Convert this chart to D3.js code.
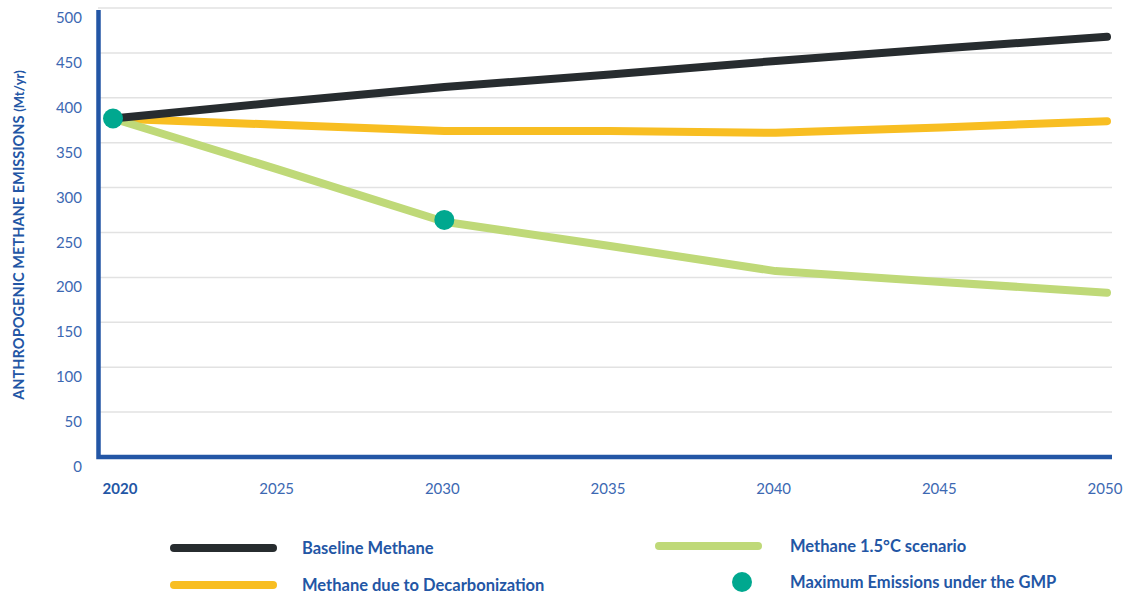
<!DOCTYPE html>
<html>
<head>
<meta charset="utf-8">
<script src="https://cdn.jsdelivr.net/npm/d3@7"></script>
<style>
  body { margin: 0; background: #fff; }
  svg { display: block; font-family: Lato, "Noto Sans", sans-serif; }
</style>
</head>
<body>
<svg id="chart" width="1129" height="594"></svg>
<script>
// chart data
var years = [2020, 2025, 2030, 2035, 2040, 2045, 2050];
var baseline = [377, 395, 412, 426, 441, 455, 468];
var decarb = [377, 370, 363, 363, 361, 367, 374];
var scenario15 = [377, 320, 262, 235, 207, 195, 183];
var gmpYears = [2020, 2030];
var gmpValues = [377, 264];
var yTicks = [0, 50, 100, 150, 200, 250, 300, 350, 400, 450, 500];

var blue = "#2356a5";
var tickBlue = "#3c68b2";

var svg = d3.select("#chart");

var x = d3.scaleLinear().domain([2020, 2050]).range([113, 1107]);
var y = d3.scaleLinear().domain([0, 500]).range([457, 8]);

// gridlines
svg.append("g")
  .selectAll("line")
  .data(yTicks.slice(1))
  .enter().append("line")
    .attr("x1", 98).attr("x2", 1112)
    .attr("y1", function(d) { return y(d); })
    .attr("y2", function(d) { return y(d); })
    .attr("stroke", "#e2e2e2")
    .attr("stroke-width", 1.5);

// y tick labels (sit a bit below their gridline)
svg.append("g")
  .selectAll("text")
  .data(yTicks)
  .enter().append("text")
    .attr("x", 82)
    .attr("y", function(d) { return y(d) + 15; })
    .attr("text-anchor", "end")
    .attr("font-size", "15px")
    .attr("fill", tickBlue)
    .text(function(d) { return d; });

// x tick labels
svg.append("g")
  .selectAll("text")
  .data(years)
  .enter().append("text")
    .attr("x", function(d, i) { return i == 0 ? x(d) + 7 : x(d) - 2; })
    .attr("y", 494)
    .attr("text-anchor", "middle")
    .attr("font-size", "15px")
    .attr("font-weight", function(d, i) { return i == 0 ? "bold" : "normal"; })
    .attr("fill", function(d, i) { return i == 0 ? blue : tickBlue; })
    .text(function(d) { return d; });

// axis lines
svg.append("path")
  .attr("d", "M98.5,10 V457 H1112")
  .attr("fill", "none")
  .attr("stroke", blue)
  .attr("stroke-width", 4.5);

// y axis title
svg.append("text")
  .attr("transform", "translate(24,235) rotate(-90)")
  .attr("text-anchor", "middle")
  .attr("font-size", "14.6px")
  .attr("font-weight", "bold")
  .attr("fill", blue)
  .text("ANTHROPOGENIC METHANE EMISSIONS ")
  .append("tspan")
    .attr("font-size", "13px")
    .text("(Mt/yr)");

var line = d3.line()
  .x(function(d, i) { return x(years[i]); })
  .y(function(d) { return y(d); });

var series = [
  {values: decarb, color: "#f8be22"},
  {values: scenario15, color: "#bfd978"},
  {values: baseline, color: "#272c2f"}
];

svg.append("g")
  .selectAll("path")
  .data(series)
  .enter().append("path")
    .attr("d", function(d) { return line(d.values); })
    .attr("fill", "none")
    .attr("stroke", function(d) { return d.color; })
    .attr("stroke-width", 8)
    .attr("stroke-linecap", "round")
    .attr("stroke-linejoin", "round");

// GMP markers
svg.append("g")
  .selectAll("circle")
  .data(gmpYears)
  .enter().append("circle")
    .attr("cx", function(d) { return x(d); })
    .attr("cy", function(d, i) { return y(gmpValues[i]); })
    .attr("r", 10)
    .attr("fill", "#00a88f");

// legend
var legend = [
  {label: "Baseline Methane", color: "#272c2f", type: "line", lx: 170, ly: 548},
  {label: "Methane due to Decarbonization", color: "#f8be22", type: "line", lx: 170, ly: 585},
  {label: "Methane 1.5°C scenario", color: "#bfd978", type: "line", lx: 655, ly: 546},
  {label: "Maximum Emissions under the GMP", color: "#00a88f", type: "dot", lx: 655, ly: 582}
];

var lg = svg.append("g")
  .selectAll("g")
  .data(legend)
  .enter().append("g")
    .attr("transform", function(d) { return "translate(" + d.lx + "," + d.ly + ")"; });

lg.filter(function(d) { return d.type == "line"; })
  .append("line")
    .attr("x1", 4).attr("x2", 103)
    .attr("stroke", function(d) { return d.color; })
    .attr("stroke-width", 8)
    .attr("stroke-linecap", "round");

lg.filter(function(d) { return d.type == "dot"; })
  .append("circle")
    .attr("cx", 87)
    .attr("r", 10)
    .attr("fill", function(d) { return d.color; });

lg.append("text")
  .attr("x", function(d) { return d.lx == 170 ? 132 : 135; })
  .attr("dy", "0.35em")
  .attr("font-size", "16.5px")
  .attr("font-weight", "bold")
  .attr("fill", blue)
  .text(function(d) { return d.label; });
</script>
</body>
</html>
